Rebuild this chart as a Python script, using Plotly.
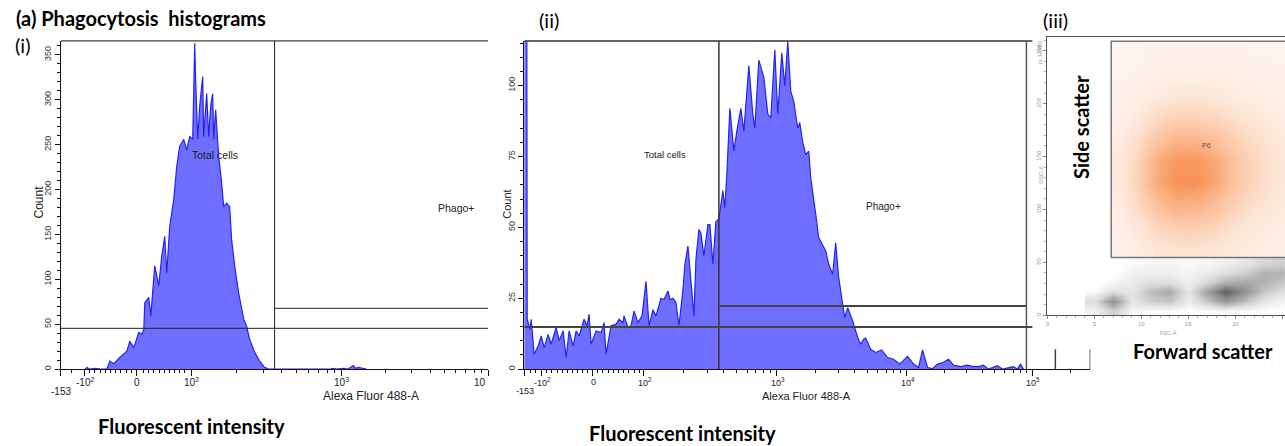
import plotly.graph_objects as go

W, H = 1285, 446

# ---- (i) histogram: display channel (biexponential Alexa Fluor 488-A axis) vs count
ch_i = [24, 26, 29, 34, 40, 46, 49, 53, 59, 66, 69, 73, 78, 81, 83, 84, 88, 90, 94, 98,
        101, 104, 106, 109, 113, 116, 119, 123, 126, 129, 132, 133, 134, 135, 137, 139,
        142, 143, 146, 148, 150, 152, 153, 155, 158, 161, 163, 166, 169, 171, 174, 178,
        183, 186, 189, 194, 199, 204, 208,
        270, 273, 276, 283, 287, 290, 293, 295, 298, 302, 306]
count_i = [0, 2, 0, 1, 0, 0, 9, 6, 13, 20, 31, 24, 41, 39, 44, 74, 80, 59, 115, 93,
           126, 148, 107, 159, 189, 226, 248, 256, 244, 259, 256, 300, 363, 320, 256, 293,
           326, 259, 307, 259, 293, 307, 256, 289, 237, 207, 181, 185, 181, 144, 115, 85,
           56, 48, 33, 19, 9, 2, 0,
           0, 1, 0, 1, 0, 2, 4, 1, 2, 1, 0]

xt_i_vals = [0, 24, 76, 131, 281, 428]
xt_i_text = ["-153", "-10<sup>2</sup>", "0", "10<sup>2</sup>", "10<sup>3</sup>", "10"]
xminor_i = [11, 29, 34, 40, 45, 50, 55, 60, 66, 71, 83, 88, 93, 99, 104, 109, 114, 119, 124,
            176, 203, 221, 236, 248, 258, 267, 274, 325, 351, 370, 384, 395, 405, 414, 421]

# gates (i): split channel, total-cells bar, phago+ bar
split_i = 214
total_i = (0, 428, 45.5)
phago_i = (214, 428, 67.8)

# ---- (ii) histogram
ch_ii = [0, 2, 3, 6, 7, 10, 14, 17, 20, 24, 27, 32, 35, 39, 42, 45, 49, 52, 55, 60, 63, 65,
         67, 72, 77, 80, 82, 87, 92, 95, 99, 100, 104, 107, 110, 114, 118, 122, 125, 129,
         132, 137, 140, 144, 146, 149, 152, 155, 159, 161, 164, 167, 170, 172, 175, 177,
         180, 184, 186, 189, 192, 195, 199, 201, 203, 206, 210, 213, 217, 220, 225, 229,
         231, 235, 240, 244, 247, 251, 254, 258, 261, 264, 267, 270, 274, 276, 279, 282,
         285, 287, 289, 292, 295, 299, 302, 305, 309, 312, 315, 319, 321, 324, 329, 334,
         337, 340, 342, 347, 352, 358, 364, 370, 376, 384, 390, 395, 399, 404, 409, 414,
         419, 425, 430, 437, 444, 450, 455, 460, 465, 474, 479, 490, 494, 497, 500]
count_ii = [300, 300, 17.6, 14, 17.6, 5.3, 8.2, 11.7, 7.6, 12.3, 8.8, 14.7, 10, 13.5, 4.1,
            13.5, 8.2, 13.5, 11.7, 17.6, 15.3, 19.4, 8.8, 13.5, 12.9, 16.4, 5.3, 15.3, 15.8,
            17.6, 16.4, 18.8, 14.7, 15.3, 20.5, 16.4, 18.8, 31, 15.3, 21, 18.8, 25, 24.6,
            27.6, 24.6, 25, 23.5, 15.3, 28, 37, 43.4, 31.7, 18.8, 38.7, 49.3, 48, 40, 51, 51,
            37, 52, 53, 63, 57, 69, 92, 77, 84, 92, 84, 107, 90, 85, 109, 103, 90, 88.6,
            112.7, 90, 111.5, 100, 115.6, 98, 94.5, 85, 87, 80, 75.7, 76.9, 67.5, 62.8, 54.6,
            46.4, 44, 41.7, 37, 33.5, 44.6, 32.3, 22.9, 18.2, 21.7, 17, 11.2, 8.8, 10.6, 11,
            7, 5.9, 6.8, 4.1, 3.5, 1.8, 4.5, 1.8, 0.6, 6.8, 0.6, 0.2, 1.8, 2.3, 3.5, 1.4, 0.9,
            1.4, 0.9, 0.9, 1.4, 0, 1.2, 0, 0.9, 0, 1.8, 0]

xt_ii_vals = [0, 17, 68, 120, 253, 383, 509]
xt_ii_text = ["-153", "-10<sup>2</sup>", "0", "10<sup>2</sup>", "10<sup>3</sup>",
              "10<sup>4</sup>", "10<sup>5</sup>"]
xminor_ii = [6, 11, 22, 27, 33, 38, 43, 48, 53, 58, 63, 73, 78, 84, 89, 94, 99, 104, 110, 115,
             160, 184, 200, 213, 224, 232, 240, 247, 292, 315, 331, 344, 354, 363, 370, 377,
             421, 443, 459, 471, 481, 490, 497, 503, 547]

split_ii = 195
right_ii = 503
total_ii = (0, 509, 14.9)
phago_ii = (195, 503, 22.3)

# ---- (iii) FSC-A / SSC-A (x 1,000) relative dot density
p6_fsc_edges = [6.8, 8.8, 10.8, 12.8, 14.8, 16.8, 18.8, 20.8, 22.8, 24.8, 26.8]
p6_ssc_edges = [55, 75, 95, 115, 135, 155, 175, 195, 215, 235, 259]
p6_density = [
    [.05, .10, .15, .18, .18, .15, .12, .10, .08, .08],
    [.08, .15, .28, .35, .35, .28, .18, .13, .10, .08],
    [.10, .25, .50, .65, .62, .50, .32, .20, .14, .10],
    [.12, .32, .72, .95, .95, .75, .45, .28, .18, .12],
    [.12, .30, .68, .90, .90, .72, .45, .28, .18, .12],
    [.10, .22, .45, .60, .60, .48, .32, .22, .15, .10],
    [.07, .13, .25, .32, .32, .28, .20, .15, .11, .08],
    [.05, .08, .12, .16, .16, .14, .11, .09, .07, .06],
    [.04, .05, .07, .08, .08, .08, .07, .06, .05, .05],
    [.03, .04, .05, .05, .05, .05, .05, .04, .04, .04],
]
debris_fsc_edges = [4, 6, 8, 10, 12, 14, 16, 18, 20, 22, 24, 26]
debris_ssc_edges = [0, 9, 18, 27, 36, 45, 55]
debris_density = [
    [.10, .35, .08, .05, .05, .03, .05, .08, .06, .03, .02],
    [.25, .70, .20, .35, .40, .15, .40, .65, .45, .20, .10],
    [.05, .25, .20, .45, .55, .20, .60, .95, .70, .40, .25],
    [.00, .08, .15, .25, .25, .12, .30, .50, .55, .50, .40],
    [.00, .03, .10, .12, .12, .08, .15, .25, .35, .50, .50],
    [.00, .02, .06, .08, .08, .06, .08, .12, .20, .30, .35],
]
p6_gate = (6.8, 27, 54.7, 259)


def px(x):
    return x / W


def py(y):
    return 1 - y / H


HIST_LINE = "#2323f5"
HIST_FILL = "#6e6eff"
SMALL = "Liberation Sans"
BIG = "Lato"

fig = go.Figure()

fig.add_trace(go.Scatter(x=ch_i, y=count_i, mode="lines", fill="tozeroy",
                         line=dict(color=HIST_LINE, width=1.2), fillcolor=HIST_FILL,
                         xaxis="x", yaxis="y", hoverinfo="skip"))
fig.add_trace(go.Scatter(x=ch_ii, y=count_ii, mode="lines", fill="tozeroy",
                         line=dict(color=HIST_LINE, width=1.2), fillcolor=HIST_FILL,
                         xaxis="x2", yaxis="y2", hoverinfo="skip"))

fig.add_trace(go.Heatmap(x=debris_fsc_edges, y=debris_ssc_edges, z=debris_density,
                         zsmooth="best", zmin=0, zmax=1, showscale=False, hoverinfo="skip",
                         colorscale=[[0, "rgba(255,255,255,0)"], [0.1, "rgba(215,215,215,0.35)"],
                                     [0.5, "rgba(125,125,125,0.6)"], [1, "rgba(50,50,50,0.85)"]],
                         xaxis="x3", yaxis="y3"))
fig.add_trace(go.Heatmap(x=p6_fsc_edges, y=p6_ssc_edges, z=p6_density,
                         zsmooth="best", zmin=0, zmax=1, showscale=False, hoverinfo="skip",
                         colorscale=[[0, "rgba(255,255,255,0)"], [0.03, "rgb(254,245,239)"],
                                     [0.3, "rgb(252,210,182)"], [1, "rgb(247,142,78)"]],
                         xaxis="x3", yaxis="y3"))

hist_x = dict(showline=True, linecolor="#111", linewidth=1, ticks="outside", ticklen=6,
              tickcolor="#111", showticklabels=False, showgrid=False, zeroline=False,
              tickmode="array")
hist_y = dict(showline=True, linecolor="#111", linewidth=1, ticks="outside", ticklen=5,
              tickcolor="#111", tickangle=-90, showgrid=False, zeroline=False,
              tickfont=dict(family=SMALL, size=9, color="#333"))

fig.update_layout(
    width=W, height=H, margin=dict(l=0, r=0, t=0, b=0),
    paper_bgcolor="white", plot_bgcolor="white", showlegend=False,
    xaxis=dict(hist_x, domain=[px(59), px(487)], range=[0, 428], anchor="y",
               tickvals=xt_i_vals,
               minor=dict(tickmode="array", tickvals=xminor_i, ticks="outside", ticklen=3,
                          tickcolor="#111")),
    yaxis=dict(hist_y, domain=[py(370), py(41)], range=[0, 365.6], anchor="x", dtick=50,
               minor=dict(dtick=10, ticks="outside", ticklen=3, tickcolor="#111")),
    xaxis2=dict(hist_x, domain=[px(523), px(1090)], range=[0, 567], anchor="y2",
                tickvals=xt_ii_vals,
                minor=dict(tickmode="array", tickvals=xminor_ii, ticks="outside", ticklen=3,
                           tickcolor="#111")),
    yaxis2=dict(hist_y, domain=[py(370), py(41)], range=[0, 115.8], anchor="x2", dtick=25,
                minor=dict(dtick=5, ticks="outside", ticklen=3, tickcolor="#111")),
    xaxis3=dict(domain=[px(1047), 1], range=[0, 25.3], anchor="y3", showline=True,
                linecolor="#555", mirror=True, ticks="outside", ticklen=3, tickcolor="#888",
                dtick=5, tick0=0, showgrid=False, zeroline=False,
                tickfont=dict(family=SMALL, size=6, color="#999"),
                minor=dict(dtick=1, ticks="outside", ticklen=2, tickcolor="#aaa")),
    yaxis3=dict(domain=[py(316), py(37)], range=[0, 263], anchor="x3", showline=True,
                linecolor="#555", ticks="outside", ticklen=3, tickcolor="#888",
                dtick=50, tick0=0, tickangle=-90, showgrid=False, zeroline=False,
                tickfont=dict(family=SMALL, size=6, color="#999"),
                minor=dict(dtick=10, ticks="outside", ticklen=2, tickcolor="#aaa")),
)

shapes = []


def hline(xref, yref, x0, x1, y, color="#222", width=1):
    shapes.append(dict(type="line", xref=xref, yref=yref, x0=x0, x1=x1, y0=y, y1=y,
                       line=dict(color=color, width=width)))


def vline(xref, yref, x, y0, y1, color="#222", width=1):
    shapes.append(dict(type="line", xref=xref, yref=yref, x0=x, x1=x, y0=y0, y1=y1,
                       line=dict(color=color, width=width)))


# panel (i) frame top + gates
hline("x", "y domain", 0, 428, 1, "#111")
vline("x", "y domain", split_i, 0, 1)
hline("x", "y", total_i[0], total_i[1], total_i[2])
hline("x", "y", phago_i[0], phago_i[1], phago_i[2])
# panel (ii)
hline("x2", "y2 domain", 0, 509, 1, "#333", 1.5)
vline("x2", "y2 domain", split_ii, 0, 1, "#333", 1.5)
vline("x2", "y2 domain", right_ii, 0, 1, "#555", 1.5)
hline("x2", "y2", total_ii[0], total_ii[1], total_ii[2], "#444", 2)
hline("x2", "y2", phago_ii[0], phago_ii[1], phago_ii[2], "#444", 2)
vline("x2", "y2", 532, 0, 7, "#444", 1.5)
vline("x2", "y2", 567, 0, 7, "#444", 1.5)
# panel (iii) P6 gate
shapes.append(dict(type="rect", xref="x3", yref="y3", x0=p6_gate[0], x1=p6_gate[1],
                   y0=p6_gate[2], y1=p6_gate[3], line=dict(color="#777", width=1.5)))
fig.update_layout(shapes=shapes)

ann = []


def text(t, x, y, size, family=SMALL, bold=False, xref="paper", yref="paper",
         xanchor="center", angle=0, color="#222"):
    ann.append(dict(text="<b>%s</b>" % t if bold else t, x=x, y=y, xref=xref, yref=yref,
                    xanchor=xanchor, yanchor="middle", showarrow=False, textangle=angle,
                    font=dict(family=family, size=size, color=color)))


# tick labels of the biexponential axes
for v, t in zip(xt_i_vals, xt_i_text):
    text(t, v, py(392 if t == "-153" else 383), 10, xref="x",
         xanchor="right" if v == 428 else "center")
for v, t in zip(xt_ii_vals, xt_ii_text):
    text(t, v + 1, py(392 if t == "-153" else 383), 9, xref="x2")

text("Count", px(37), py(202), 12, angle=-90)
text("Count", px(505), py(205), 11, angle=-90)
text("Alexa Fluor 488-A", px(370), py(397), 12)
text("Alexa Fluor 488-A", px(806), py(397), 11)
text("Total cells", 154, 239, 10.5, xref="x", yref="y")
text("Phago+", 396, 180, 10.5, xref="x", yref="y")
text("Total cells", 141, 75.7, 9.5, xref="x2", yref="y2")
text("Phago+", 360, 57.4, 10, xref="x2", yref="y2")
text("P6", 16.9, 160, 7, xref="x3", yref="y3", color="#555")
text("SSC-A", px(1040), py(175), 6, angle=-90, color="#999")
text("(x 1,000)", px(1040), py(52), 6, angle=-90, color="#999")
text("FSC-A", px(1168), py(334), 5.5, color="#999")

text("(a) Phagocytosis\u00a0 histograms", px(12), py(18), 20, BIG, True, xanchor="left",
     color="#000")
text("(i)", px(11), py(45), 20, BIG, xanchor="left", color="#000")
text("(ii)", px(536), py(20), 20, BIG, xanchor="left", color="#000")
text("(iii)", px(1041), py(20), 20, BIG, xanchor="left", color="#000")
text("Fluorescent intensity", px(190), py(427), 20, BIG, True, color="#000")
text("Fluorescent intensity", px(682), py(434), 20, BIG, True, color="#000")
text("Side scatter", px(1080), py(127), 20, BIG, True, angle=-90, color="#000")
text("Forward scatter", px(1203), py(352), 20, BIG, True, color="#000")
fig.update_layout(annotations=ann)

# the page body keeps its default 8px margin unless reset
fig.write_html("out.html", config={"displayModeBar": False},
               post_script="document.body.style.margin='0';")
